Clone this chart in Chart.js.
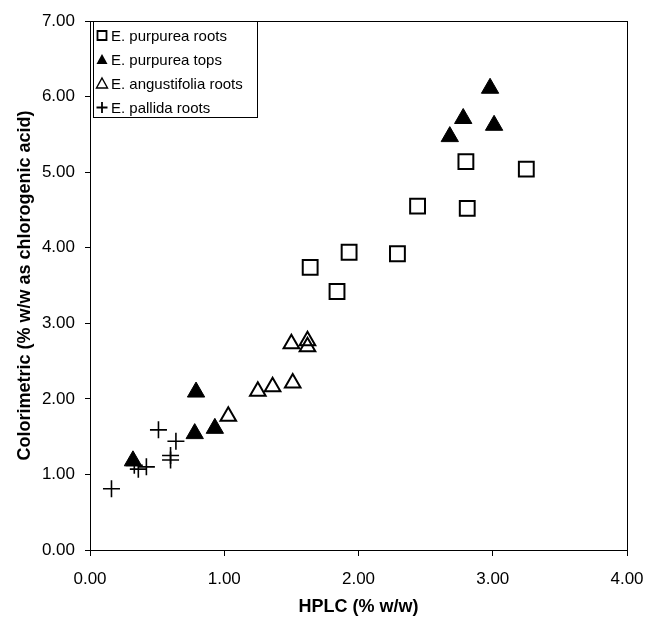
<!DOCTYPE html>
<html>
<head>
<meta charset="utf-8">
<script src="https://cdn.jsdelivr.net/npm/chart.js@4.4.1/dist/chart.umd.min.js"></script>
<style>
  html, body { margin: 0; padding: 0; background: #fff; }
  #wrap { width: 645px; height: 623px; }
</style>
</head>
<body>
<div id="wrap"><canvas id="scatter" width="645" height="623"></canvas></div>
<script>
// values (HPLC % w/w vs colorimetric % w/w)
const purpureaRootsX = [1.64, 1.84, 1.93, 2.29, 2.44, 2.80, 2.81, 3.25]
const purpureaRootsY = [3.74, 3.42, 3.94, 3.92, 4.55, 5.14, 4.52, 5.04]

const purpureaTopsX = [0.32, 0.78, 0.79, 0.93, 2.68, 2.78, 2.98, 3.01]
const purpureaTopsY = [1.18, 1.54, 2.09, 1.61, 5.47, 5.71, 6.11, 5.62]

const angustifoliaRootsX = [1.03, 1.25, 1.36, 1.51, 1.50, 1.62, 1.62]
const angustifoliaRootsY = [1.77, 2.10, 2.16, 2.21, 2.73, 2.77, 2.69]

const pallidaRootsX = [0.16, 0.33, 0.36, 0.42, 0.51, 0.60, 0.60, 0.64]
const pallidaRootsY = [0.81, 1.12, 1.07, 1.10, 1.59, 1.19, 1.25, 1.44]

const seriesLabels = ['E. purpurea roots', 'E. purpurea tops', 'E. angustifolia roots', 'E. pallida roots']
const xTicks = [0, 1, 2, 3, 4]
const yTicks = [0, 1, 2, 3, 4, 5, 6, 7]

const toPoints = (xs, ys) => xs.map((x, i) => ({x: x, y: ys[i]}))

Chart.defaults.font.family = '"Liberation Sans", Arial, sans-serif'
Chart.defaults.color = '#000'

// frame round the plot area
const frame = {
    id: 'frame',
    afterDraw(chart){
        const {ctx, chartArea: a} = chart
        ctx.save()
        ctx.strokeStyle = '#000'
        ctx.lineWidth = 1
        ctx.strokeRect(a.left + 0.5, a.top + 0.5, a.right - a.left, a.bottom - a.top)
        ctx.restore()
    }
}

// boxed legend in the upper left corner of the plot
const boxLegend = {
    id: 'boxLegend',
    afterDraw(chart){
        const {ctx, chartArea: a} = chart
        const left = a.left + 3, top = a.top
        ctx.save()
        ctx.fillStyle = '#fff'
        ctx.fillRect(left, top, 164, 96)
        ctx.strokeStyle = '#000'
        ctx.lineWidth = 1
        ctx.strokeRect(left + 0.5, top + 0.5, 164, 96)
        ctx.font = '15px "Liberation Sans", Arial, sans-serif'
        ctx.textBaseline = 'middle'
        chart.data.datasets.forEach((ds, i) => {
            const cy = top + 14.5 + i * 24
            const cx = left + 9
            ctx.fillStyle = '#000'
            ctx.strokeStyle = '#000'
            ctx.lineWidth = 1.8
            ctx.beginPath()
            if(ds.pointStyle === 'rect'){
                ctx.rect(cx - 4.5, cy - 4.5, 9, 9)
                ctx.stroke()
            } else if(ds.pointStyle === 'triangle'){
                ctx.moveTo(cx, cy - 5.5)
                ctx.lineTo(cx + 5.5, cy + 4.5)
                ctx.lineTo(cx - 5.5, cy + 4.5)
                ctx.closePath()
                if(ds.backgroundColor === '#000') ctx.fill()
                else { ctx.lineWidth = 1.4; ctx.stroke() }
            } else {
                ctx.moveTo(cx - 5.5, cy)
                ctx.lineTo(cx + 5.5, cy)
                ctx.moveTo(cx, cy - 5.5)
                ctx.lineTo(cx, cy + 5.5)
                ctx.stroke()
            }
            ctx.fillStyle = '#000'
            ctx.fillText(ds.label, left + 18, cy + 1)
        })
        ctx.restore()
    }
}

new Chart(document.querySelector('#scatter'), {
    type: 'scatter',
    data: {
        datasets: [{
            label: seriesLabels[0],
            data: toPoints(purpureaRootsX, purpureaRootsY),
            pointStyle: 'rect',
            pointRadius: 10.5,
            borderColor: '#000',
            backgroundColor: '#fff',
            borderWidth: 2
        }, {
            label: seriesLabels[1],
            data: toPoints(purpureaTopsX, purpureaTopsY),
            pointStyle: 'triangle',
            pointRadius: 10,
            borderColor: '#000',
            backgroundColor: '#000',
            borderWidth: 1
        }, {
            label: seriesLabels[2],
            data: toPoints(angustifoliaRootsX, angustifoliaRootsY),
            pointStyle: 'triangle',
            pointRadius: 9,
            borderColor: '#000',
            backgroundColor: 'rgba(255,255,255,0)',
            borderWidth: 2
        }, {
            label: seriesLabels[3],
            data: toPoints(pallidaRootsX, pallidaRootsY),
            pointStyle: 'cross',
            pointRadius: 8.5,
            borderColor: '#000',
            borderWidth: 1.6
        }]
    },
    options: {
        responsive: false,
        animation: false,
        events: [],
        layout: {
            padding: {left: 0, right: 0, top: 21, bottom: 0}
        },
        plugins: {
            legend: {display: false},
            tooltip: {enabled: false}
        },
        scales: {
            x: {
                type: 'linear',
                min: 0,
                max: 4,
                afterBuildTicks: s => { s.ticks = xTicks.map(v => ({value: v})) },
                afterFit: s => {
                    s.height = 73
                    s.paddingLeft = 0
                    s.paddingRight = 18
                },
                border: {color: '#000', width: 1},
                grid: {drawOnChartArea: false, drawTicks: true, tickLength: 6, color: '#000'},
                ticks: {
                    padding: 13,
                    font: {size: 17},
                    callback: v => v.toFixed(2)
                },
                title: {
                    display: true,
                    text: 'HPLC (% w/w)',
                    font: {size: 18, weight: 'bold'},
                    padding: {top: 0, bottom: 5}
                }
            },
            y: {
                type: 'linear',
                min: 0,
                max: 7,
                afterBuildTicks: s => { s.ticks = yTicks.map(v => ({value: v})) },
                afterFit: s => { s.width = 90 },
                border: {color: '#000', width: 1},
                grid: {drawOnChartArea: false, drawTicks: true, tickLength: 5, color: '#000'},
                ticks: {
                    padding: 10,
                    font: {size: 17},
                    callback: v => v.toFixed(2)
                },
                title: {
                    display: true,
                    text: 'Colorimetric (% w/w as chlorogenic acid)',
                    font: {size: 18, weight: 'bold'},
                    padding: {top: 14, bottom: 0}
                }
            }
        }
    },
    plugins: [frame, boxLegend]
})
</script>
</body>
</html>
